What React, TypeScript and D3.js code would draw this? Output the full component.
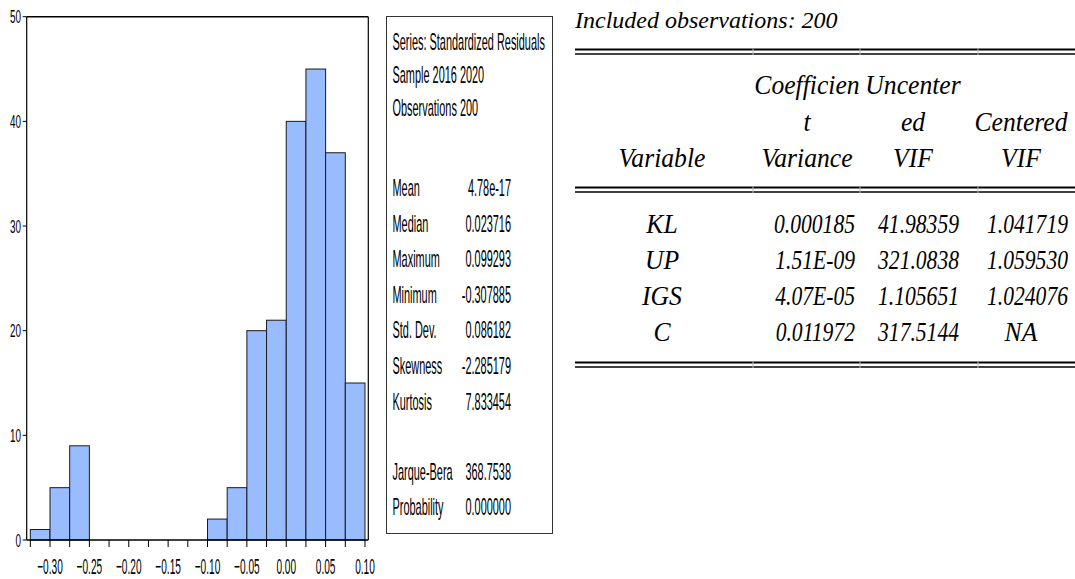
import React from "react";
import * as d3 from "d3";

// ---------- Histogram data ----------
const binLower = [-0.325, -0.3, -0.275, -0.25, -0.225, -0.2, -0.175, -0.15, -0.125, -0.1, -0.075, -0.05, -0.025, 0, 0.025, 0.05, 0.075];
const binCounts = [1, 5, 9, 0, 0, 0, 0, 0, 0, 2, 5, 20, 21, 40, 45, 37, 15];
const binWidth = 0.025;
const yTicks = [0, 10, 20, 30, 40, 50];
const xMinorTicks = [-0.325, -0.3, -0.275, -0.25, -0.225, -0.2, -0.175, -0.15, -0.125, -0.1, -0.075, -0.05, -0.025, 0, 0.025, 0.05, 0.075, 0.1];
const xLabelTicks = [-0.3, -0.25, -0.2, -0.15, -0.1, -0.05, 0, 0.05, 0.1];

// ---------- Statistics box ----------
const seriesLines = ["Series: Standardized Residuals", "Sample 2016 2020", "Observations 200"];
const statLabels = ["Mean", "Median", "Maximum", "Minimum", "Std. Dev.", "Skewness", "Kurtosis"];
const statValues = ["4.78e-17", "0.023716", "0.099293", "-0.307885", "0.086182", "-2.285179", "7.833454"];
const testLabels = ["Jarque-Bera", "Probability"];
const testValues = ["368.7538", "0.000000"];

// ---------- VIF table ----------
const tableTitle = "Included observations: 200";
const headerRow1 = ["", "Coefficien", "Uncenter", ""];
const headerRow2 = ["", "t", "ed", "Centered"];
const headerRow3 = ["Variable", "Variance", "VIF", "VIF"];
const tableVars = ["KL", "UP", "IGS", "C"];
const coefVariance = ["0.000185", "1.51E-09", "4.07E-05", "0.011972"];
const uncenteredVIF = ["41.98359", "321.0838", "1.105651", "317.5144"];
const centeredVIF = ["1.041719", "1.059530", "1.024076", "NA"];

const SANS = "'Liberation Sans', Arial, sans-serif";
const SERIF = "'Liberation Serif', 'Times New Roman', serif";

function T(props: {
  x: number; y: number; sx?: number; anchor?: string; size: number; family: string;
  italic?: boolean; children: React.ReactNode;
}) {
  const { x, y, sx = 1, anchor = "start", size, family, italic, children } = props;
  return (
    <text
      transform={`translate(${x},${y}) scale(${sx},1)`}
      textAnchor={anchor as any}
      fontSize={size}
      fontFamily={family}
      fontStyle={italic ? "italic" : "normal"}
      fill="#000"
    >
      {children}
    </text>
  );
}

export default function App() {
  // histogram scales
  const x = d3.scaleLinear().domain([-0.3296, 0.1042]).range([26.7, 368.3]);
  const y = d3.scaleLinear().domain([0, 50]).range([540, 16.7]);
  const [px0, px1] = x.range();
  const [py0, py1] = y.range();
  const fmt = d3.format(".2f");

  // stats box layout
  const boxX0 = 386.5, boxX1 = 552.5, boxY0 = 16.5, boxY1 = 533.5;
  const labelX = 392.5;
  const valueRight = 511;
  const seriesY = d3.scaleLinear().domain([0, 1]).range([50, 83]);
  const statY = d3.scaleLinear().domain([0, 1]).range([196, 231.6]);
  const testY = d3.scaleLinear().domain([0, 1]).range([480, 515]);
  const BOX_FS = 23, BOX_SX = 0.475;

  // table layout
  const colCenters = [662, 807, 913, 1021];
  const colRights = [0, 855, 959, 1068];
  const headerY = d3.scaleLinear().domain([0, 1]).range([94, 130.5]);
  const rowY = d3.scaleLinear().domain([0, 1]).range([233, 269]);
  const TBL_FS = 27, WORD_SX = 0.95, NUM_SX = 0.8;
  const lineX0 = 575, lineX1 = 1075;
  const colSeps = [753, 860, 978];

  const doubleLine = (yTop: number, key: string) => (
    <g key={key}>
      <line x1={lineX0} x2={lineX1} y1={yTop} y2={yTop} stroke="#000" strokeWidth={2} />
      <line x1={lineX0} x2={lineX1} y1={yTop + 4.5} y2={yTop + 4.5} stroke="#000" strokeWidth={1.6} />
      {colSeps.map((cx, i) => (
        <line key={i} x1={cx} x2={cx} y1={yTop - 1} y2={yTop + 5.5} stroke="#bbb" strokeWidth={1} />
      ))}
    </g>
  );

  const headerRows = [headerRow1, headerRow2, headerRow3];
  const valueCols = [coefVariance, uncenteredVIF, centeredVIF];

  return (
    <svg
      width={1075}
      height={579}
      style={{ position: "absolute", left: 0, top: 0, background: "#fff" }}
    >
      <rect x={0} y={0} width={1075} height={579} fill="#fff" />

      {/* Histogram bars */}
      <g>
        {binLower.map((b, i) =>
          binCounts[i] > 0 ? (
            <rect
              key={i}
              x={x(b)}
              y={y(binCounts[i])}
              width={x(b + binWidth) - x(b)}
              height={y(0) - y(binCounts[i])}
              fill="#99bbff"
              stroke="#1a1a1a"
              strokeWidth={1}
            />
          ) : null
        )}
      </g>

      {/* Frame */}
      <line x1={px0} x2={px1} y1={py1} y2={py1} stroke="#000" strokeWidth={1.6} />
      <line x1={px1} x2={px1} y1={py1} y2={py0} stroke="#000" strokeWidth={1.2} />
      <line x1={px0} x2={px0} y1={py1} y2={py0} stroke="#000" strokeWidth={1.2} />
      <line x1={px0} x2={px1} y1={py0} y2={py0} stroke="#000" strokeWidth={1.4} />

      {/* Y axis ticks and labels */}
      {yTicks.map((t) => (
        <g key={t}>
          <line x1={px0 - 4} x2={px0} y1={y(t)} y2={y(t)} stroke="#000" strokeWidth={1} />
          <T x={21} y={y(t) + 6.5} sx={0.55} anchor="end" size={18} family={SANS}>{t}</T>
        </g>
      ))}

      {/* X axis ticks and labels */}
      {xMinorTicks.map((t, i) => (
        <line key={i} x1={x(t)} x2={x(t)} y1={py0} y2={py0 + 7} stroke="#000" strokeWidth={1} />
      ))}
      {xLabelTicks.map((t, i) => (
        <T key={i} x={x(t)} y={574} sx={0.46} anchor="middle" size={22} family={SANS}>{fmt(t)}</T>
      ))}

      {/* Statistics box */}
      <rect x={boxX0} y={boxY0} width={boxX1 - boxX0} height={boxY1 - boxY0} fill="none" stroke="#333" strokeWidth={1} />
      {seriesLines.map((s, i) => (
        <T key={s} x={labelX} y={seriesY(i)} sx={BOX_SX} size={BOX_FS} family={SANS}>{s}</T>
      ))}
      {statLabels.map((s, i) => (
        <g key={s}>
          <T x={labelX} y={statY(i)} sx={BOX_SX} size={BOX_FS} family={SANS}>{s}</T>
          <T x={valueRight} y={statY(i)} sx={BOX_SX} anchor="end" size={BOX_FS} family={SANS}>{statValues[i]}</T>
        </g>
      ))}
      {testLabels.map((s, i) => (
        <g key={s}>
          <T x={labelX} y={testY(i)} sx={BOX_SX} size={BOX_FS} family={SANS}>{s}</T>
          <T x={valueRight} y={testY(i)} sx={BOX_SX} anchor="end" size={BOX_FS} family={SANS}>{testValues[i]}</T>
        </g>
      ))}

      {/* VIF table */}
      <T x={575} y={28} size={24} family={SERIF} italic>{tableTitle}</T>
      {doubleLine(49.5, "top")}
      {headerRows.map((row, r) =>
        row.map((h, c) =>
          h ? (
            <T key={`${r}-${c}`} x={colCenters[c]} y={headerY(r)} sx={WORD_SX} anchor="middle" size={TBL_FS} family={SERIF} italic>
              {h}
            </T>
          ) : null
        )
      )}
      {doubleLine(187.5, "mid")}
      {tableVars.map((v, i) => (
        <g key={v}>
          <T x={colCenters[0]} y={rowY(i)} sx={WORD_SX} anchor="middle" size={TBL_FS} family={SERIF} italic>{v}</T>
          {valueCols.map((col, c) =>
            col[i] === "NA" ? (
              <T key={c} x={colCenters[c + 1]} y={rowY(i)} sx={WORD_SX} anchor="middle" size={TBL_FS} family={SERIF} italic>{col[i]}</T>
            ) : (
              <T key={c} x={colRights[c + 1]} y={rowY(i)} sx={NUM_SX} anchor="end" size={TBL_FS} family={SERIF} italic>{col[i]}</T>
            )
          )}
        </g>
      ))}
      {doubleLine(362.5, "bot")}
    </svg>
  );
}
